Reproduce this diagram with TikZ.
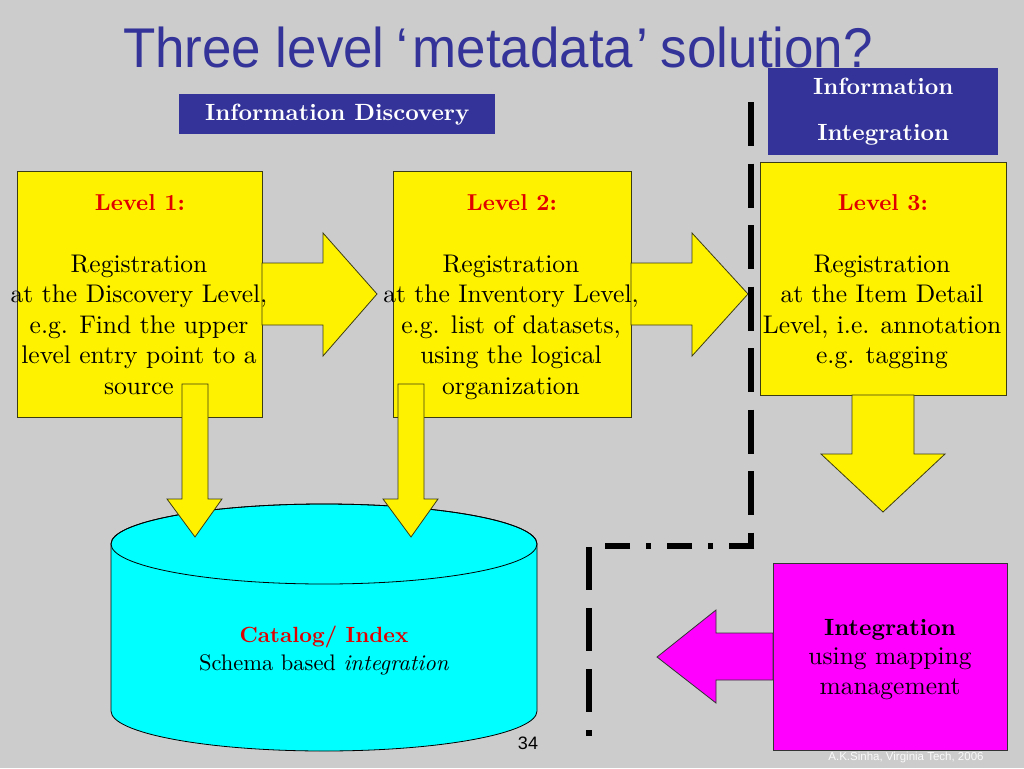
\documentclass[tikz,border=0pt]{standalone}
\usepackage{fontspec}
\setmainfont{lmroman10-regular}[Extension=.otf, BoldFont=lmroman10-bold,
  ItalicFont=lmroman10-italic, BoldItalicFont=lmroman10-bolditalic]
\newfontfamily\slidesans{Liberation Sans}
\definecolor{slidegrey}{RGB}{204,204,204}
\definecolor{titleblue}{RGB}{51,51,153}
\definecolor{levelred}{RGB}{225,0,0}
\definecolor{edgedark}{RGB}{60,60,20}
\definecolor{catcyan}{RGB}{0,255,255}
\definecolor{mapmagenta}{RGB}{255,0,255}

\begin{document}
\begin{tikzpicture}[x=1pt, y=-1pt,
    lvbox/.style={draw=edgedark, fill=yellow, line width=0.8pt, inner sep=0pt, anchor=north west},
    blockarrow/.style={draw=edgedark, fill=yellow, line width=0.8pt, line join=miter},
    bar/.style={fill=titleblue, text=white, inner sep=0pt, anchor=north west,
                font=\fontsize{23.5}{46}\selectfont\bfseries, align=center},
    headtxt/.style={anchor=base, inner sep=0pt, text=levelred, font=\fontsize{23}{27}\selectfont\bfseries},
    bodytxt/.style={anchor=base, inner sep=0pt, align=center, font=\fontsize{25.5}{30.5}\selectfont}, % base = last line
    divider/.style={line width=6pt, black}]

  % slide
  \fill[slidegrey] (0,0) rectangle (1024,768);
  \useasboundingbox (0,0) rectangle (1024,768);

  \node[anchor=base, inner sep=0pt, text=titleblue, xscale=0.945,
        font=\slidesans\fontsize{56}{60}\selectfont] (title) at (498,67)
        {Three level\kern12pt‘\kern5pt metadata\kern3pt’\kern14pt solution?};

  \node[bar, minimum width=316pt, minimum height=40pt] (discbar) at (179,94) {Information Discovery};
  \node[bar, minimum width=230pt, minimum height=87pt] (integbar) at (768,68) {Information\\Integration};

  % catalog
  \filldraw[fill=catcyan, draw=black, line width=0.8pt]
    (111,544) -- (111,711) arc[start angle=180, end angle=0, x radius=213, y radius=40]
    -- (537,544) arc[start angle=360, end angle=180, x radius=213, y radius=40] -- cycle;
  \draw[line width=0.8pt] (324,544) ellipse[x radius=213, y radius=40];

  % levels
  \node[lvbox, minimum width=245pt, minimum height=246pt] (lvA) at (17,171) {};
  \node[lvbox, minimum width=238pt, minimum height=246pt] (lvB) at (393,171) {};
  \node[lvbox, minimum width=246pt, minimum height=233pt] (lvC) at (760,162) {};
  \node[lvbox, minimum width=234pt, minimum height=187pt, fill=mapmagenta, draw=black!80] (mapbox) at (773,563) {};

  \draw[blockarrow] (262,263) -- (323,263) -- (323,233) -- (377,294) -- (323,356) -- (323,325) -- (262,325) -- cycle;
  \draw[blockarrow] (631,263) -- (692,263) -- (692,233) -- (748,294) -- (692,356) -- (692,325) -- (631,325) -- cycle;
  \draw[blockarrow] (182,384) -- (208,384) -- (208,499) -- (222,499) -- (195,537) -- (167,499) -- (182,499) -- cycle;
  \draw[blockarrow] (398,384) -- (424,384) -- (424,499) -- (438,499) -- (411,537) -- (383,499) -- (398,499) -- cycle;
  \draw[blockarrow] (852,395) -- (914,395) -- (914,454) -- (945,454) -- (883,512) -- (821,454) -- (852,454) -- cycle;
  \draw[blockarrow, fill=mapmagenta, draw=black!80] (773,633) -- (716,633) -- (716,610) -- (657,657) -- (716,703) -- (716,680) -- (773,680) -- cycle;

  % texts
  \node[headtxt] (lvAhead) at (140,210) {Level 1:};
  \node[bodytxt] (lvAbody) at (139,394) {Registration\\at the Discovery Level,\\e.g. Find the upper\\level entry point to a\\source};
  \node[headtxt] (lvBhead) at (512,210) {Level 2:};
  \node[bodytxt] (lvBbody) at (511,394) {Registration\\at the Inventory Level,\\e.g. list of datasets,\\using the logical\\organization};
  \node[headtxt] (lvChead) at (883,210) {Level 3:};
  \node[bodytxt] (lvCbody) at (882,363.5) {Registration\\at the Item Detail\\Level, i.e. annotation\\e.g. tagging};

  \node[headtxt, text=black, font=\fontsize{23.5}{27}\selectfont\bfseries] (maphead) at (890,635) {Integration};
  \node[bodytxt, font=\fontsize{25.5}{29.5}\selectfont] (mapbody) at (890,694) {using mapping\\management};

  \node[headtxt, font=\fontsize{22}{26}\selectfont\bfseries] (cathead) at (324,642) {Catalog/ Index};
  \node[anchor=base, inner sep=0pt, font=\fontsize{22.5}{26}\selectfont] (catbody) at (324,670) {Schema based \textit{integration}};

  % divider
  \draw[divider, dash pattern=on 44pt off 17.5pt] (751,102) -- (751,546);
  \draw[divider, dash pattern=on 25pt off 16pt on 5pt off 16pt] (754,546) -- (604,546);
  \draw[divider, dash pattern=on 43pt off 18pt] (589,547) -- (589,736);

  \node[anchor=base, inner sep=0pt, font=\slidesans\fontsize{18}{20}\selectfont] (pagenum) at (528,749) {34};
  \node[anchor=base, inner sep=0pt, text=white!90!slidegrey, font=\slidesans\fontsize{11.5}{13}\selectfont] (credit) at (906,760) {A.K.Sinha, Virginia Tech, 2006};
\end{tikzpicture}
\end{document}
